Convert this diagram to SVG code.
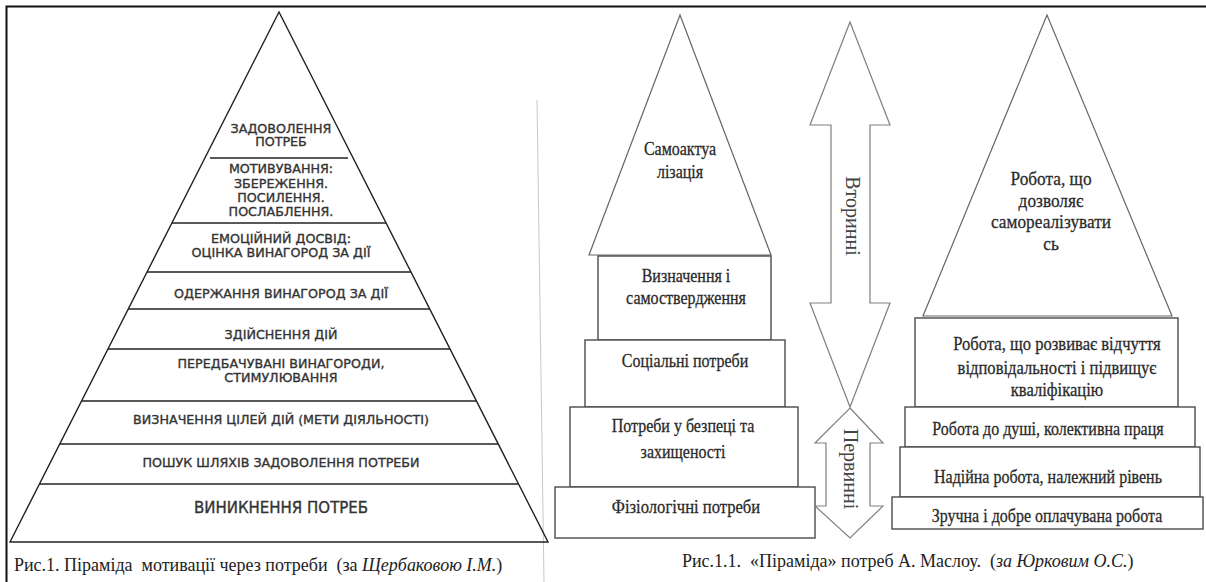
<svg xmlns="http://www.w3.org/2000/svg" width="1206" height="582" viewBox="0 0 1206 582">
<style>
.frame{stroke:#111;stroke-width:2;fill:none}
.pyr{fill:none;stroke:#222;stroke-width:1.4}
.sep{stroke:#222;stroke-width:1.4}
.caps{font-family:"DejaVu Sans",Verdana,sans-serif;font-size:12.7px;fill:#333;stroke:#333;stroke-width:0.35;text-anchor:middle}
.big{font-size:15px}
.ser{font-family:'Liberation Serif','Times New Roman',serif;font-size:16px;fill:#2a2a2a;stroke:#2a2a2a;stroke-width:0.25;text-anchor:middle}
.s17{font-size:17.3px}
.s165{font-size:16.6px}
.box{fill:#fff;stroke:#4a4a4a;stroke-width:1.4}
.tri{fill:#fff;stroke:#666;stroke-width:1.2}
.arr{fill:#fff;stroke:#808080;stroke-width:1.2}
.vt{font-family:'Liberation Serif','Times New Roman',serif;font-size:20px;fill:#444;text-anchor:middle}
.cap{font-family:'Liberation Serif','Times New Roman',serif;font-size:18px;fill:#222;white-space:pre}
</style>
<rect width="1206" height="582" fill="#fff"/>
<path class="frame" d="M6.5,582 V6.5 H1206"/>
<line x1="537" y1="100" x2="544" y2="582" stroke="#c8c8c8" stroke-width="1"/>

<g id="left-pyramid">
<polygon class="pyr" points="279,12 10,542 548,542"/>
<g id="l-zadovolennia">
<text class="caps" x="281" y="132.5">ЗАДОВОЛЕННЯ</text>
<text class="caps" x="281" y="145.5">ПОТРЕБ</text>
</g>
<g id="l-motyvuvannia">
<line class="sep" x1="210" y1="158" x2="348" y2="158"/>
<text class="caps" x="281" y="172.5">МОТИВУВАННЯ:</text>
<text class="caps" x="281" y="187.5">ЗБЕРЕЖЕННЯ.</text>
<text class="caps" x="281" y="201.5">ПОСИЛЕННЯ.</text>
<text class="caps" x="281" y="215.5">ПОСЛАБЛЕННЯ.</text>
</g>
<g id="l-emotsiinyi">
<line class="sep" x1="172" y1="223" x2="386" y2="223"/>
<text class="caps" x="281" y="242.5">ЕМОЦІЙНИЙ ДОСВІД:</text>
<text class="caps" x="281" y="256.5">ОЦІНКА ВИНАГОРОД ЗА ДІЇ</text>
</g>
<g id="l-oderzhannia">
<line class="sep" x1="147" y1="272" x2="411" y2="272"/>
<text class="caps" x="281" y="297.5">ОДЕРЖАННЯ ВИНАГОРОД ЗА ДІЇ</text>
</g>
<g id="l-zdiisnennia">
<line class="sep" x1="128" y1="309" x2="430" y2="309"/>
<text class="caps" x="281" y="338.5">ЗДІЙСНЕННЯ ДІЙ</text>
</g>
<g id="l-peredbachuvani">
<line class="sep" x1="108" y1="349" x2="450" y2="349"/>
<text class="caps" x="281" y="367.5">ПЕРЕДБАЧУВАНІ ВИНАГОРОДИ,</text>
<text class="caps" x="281" y="381.5">СТИМУЛЮВАННЯ</text>
</g>
<g id="l-vyznachennia">
<line class="sep" x1="82" y1="401" x2="476" y2="401"/>
<text class="caps" x="281" y="423.5">ВИЗНАЧЕННЯ ЦІЛЕЙ ДІЙ (МЕТИ ДІЯЛЬНОСТІ)</text>
</g>
<g id="l-poshuk">
<line class="sep" x1="60" y1="444" x2="498" y2="444"/>
<text class="caps" x="281" y="466.5">ПОШУК ШЛЯХІВ ЗАДОВОЛЕННЯ ПОТРЕБИ</text>
</g>
<g id="l-vynyknennia">
<line class="sep" x1="40" y1="484" x2="518" y2="484"/>
<text class="caps big" x="281" y="512.5">ВИНИКНЕННЯ ПОТРЕБ</text>
</g>
</g>
<text class="cap" x="14" transform="translate(0,571) scale(1,1.06)">Рис.1. Піраміда  мотивації через потреби  (за <tspan font-style="italic">Щербаковою І.М.</tspan>)</text>

<g id="maslow">
<g id="m-samoaktualizatsiia">
<polygon class="tri" points="680,15 589,255 771,255"/>
<text class="ser" x="680" transform="translate(0,155) scale(1,1.12)">Самоактуа</text>
<text class="ser" x="680" transform="translate(0,178) scale(1,1.12)">лізація</text>
</g>
<g id="m-vyznachennia">
<rect class="box" x="598" y="256" width="173" height="84"/>
<text class="ser" x="686" transform="translate(0,282) scale(1,1.12)">Визначення і</text>
<text class="ser" x="686" transform="translate(0,304) scale(1,1.12)">самоствердження</text>
</g>
<g id="m-sotsialni">
<rect class="box" x="585" y="340" width="200" height="67"/>
<text class="ser" x="685" transform="translate(0,367) scale(1,1.12)">Соціальні потреби</text>
</g>
<g id="m-bezpeka">
<rect class="box" x="570" y="407" width="228" height="80"/>
<text class="ser" x="683" transform="translate(0,432) scale(1,1.12)">Потреби у безпеці та</text>
<text class="ser" x="683" transform="translate(0,458) scale(1,1.12)">захищеності</text>
</g>
<g id="m-fiziolohichni">
<rect class="box" x="555" y="487" width="260" height="51"/>
<text class="ser s165" x="686" transform="translate(0,513) scale(1,1.12)">Фізіологічні потреби</text>
</g>
</g>

<g id="connectors">
<g id="arrow-vtorynni">
<path class="arr" d="M850,22 L890,125 L870,125 L870,303 L890,303 L850,407 L810,303 L831,303 L831,125 L810,125 Z"/>
<text class="vt" transform="translate(852,216) rotate(90)" x="0" y="6">Вторинні</text>
</g>
<g id="arrow-pervynni">
<path class="arr" d="M850,408 L883,443 L870,443 L870,506 L883,506 L850,538 L815,506 L826,506 L826,443 L815,443 Z"/>
<text class="vt" transform="translate(850,469) rotate(90)" x="0" y="6">Первинні</text>
</g>
</g>

<g id="work-pyramid">
<g id="w-samorealizatsiia">
<polygon class="tri" points="1047,15 923,316 1172,316"/>
<text class="ser s17" x="1051" transform="translate(0,185) scale(1,1.12)">Робота, що</text>
<text class="ser s17" x="1051" transform="translate(0,207) scale(1,1.12)">дозволяє</text>
<text class="ser s17" x="1051" transform="translate(0,228) scale(1,1.12)">самореалізувати</text>
<text class="ser s17" x="1051" transform="translate(0,250) scale(1,1.12)">сь</text>
</g>
<g id="w-vidpovidalnist">
<rect class="box" x="915" y="318" width="263" height="89"/>
<text class="ser s165" x="1057" transform="translate(0,350) scale(1,1.12)">Робота, що розвиває відчуття</text>
<text class="ser s165" x="1057" transform="translate(0,374) scale(1,1.12)">відповідальності і підвищує</text>
<text class="ser s165" x="1057" transform="translate(0,396) scale(1,1.12)">кваліфікацію</text>
</g>
<g id="w-do-dushi">
<rect class="box" x="905" y="407" width="290" height="40"/>
<text class="ser" x="1048" transform="translate(0,435) scale(1,1.12)">Робота до душі, колективна праця</text>
</g>
<g id="w-nadiina">
<rect class="box" x="900" y="447" width="300" height="50"/>
<text class="ser" x="1048" transform="translate(0,483) scale(1,1.12)">Надійна робота, належний рівень</text>
</g>
<g id="w-zruchna">
<rect class="box" x="892" y="497" width="311" height="32"/>
<text class="ser" x="1047" transform="translate(0,522) scale(1,1.12)">Зручна і добре оплачувана робота</text>
</g>
</g>
<text class="cap" x="682" transform="translate(0,567) scale(1,1.06)">Рис.1.1.  «Піраміда» потреб А. Маслоу.  (<tspan font-style="italic">за Юрковим О.С.</tspan>)</text>
</svg>
